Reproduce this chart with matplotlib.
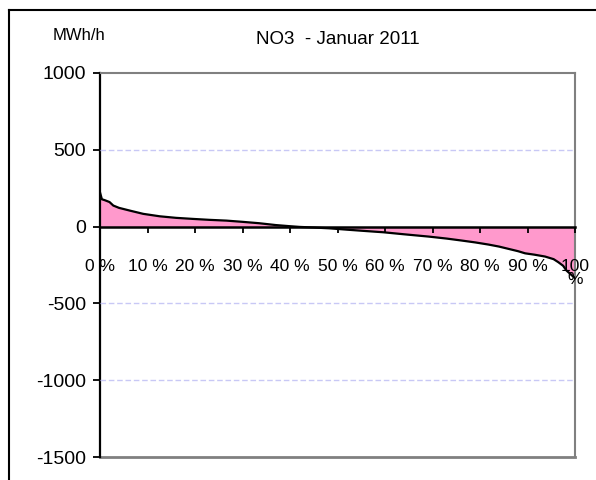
import matplotlib
matplotlib.use('Agg')
import matplotlib.pyplot as plt
from matplotlib.lines import Line2D

plt.rcParams['font.family'] = ['Liberation Sans', 'DejaVu Sans']

# duration curve, share of hours (%) vs. MWh/h
pct = [0, 0.2, 0.4, 1, 2, 2.8, 4, 6.3, 9.1, 12.6, 16, 19.6, 23, 26.6, 30,
       33.5, 37, 39.8, 42, 45, 48.2, 52, 56, 59.7, 64, 69.2, 73, 76.2, 79,
       81.8, 84, 86, 88, 89.5, 91.5, 93.7, 95.5, 96.5, 97.5, 98.2, 99.4, 100]
mwh = [223, 200, 178, 172, 160, 137, 122, 104, 83, 67, 57, 50, 44, 39, 31,
       22, 10, 3, -2, -6, -11, -20, -29, -37, -50, -65, -78, -91, -103,
       -117, -130, -145, -160, -174, -183, -195, -212, -232, -255, -286, -319, -335]

yticks = [1000, 500, 0, -500, -1000, -1500]
xticks = [0, 10, 20, 30, 40, 50, 60, 70, 80, 90, 100]
xlabels = ['0 %', '10 %', '20 %', '30 %', '40 %', '50 %', '60 %', '70 %',
           '80 %', '90 %', '100\n%']

fig = plt.figure(figsize=(5.96, 4.80), dpi=100)
ax = fig.add_axes([100/596, 1-457/480, 475/596, 384/480])

# spine position first: moving it resets the tick labels
ax.spines['bottom'].set_position(('data', 0))
ax.spines['bottom'].set_linewidth(1.8)
ax.spines['left'].set_linewidth(1.6)
for s in ['top', 'right']:
    ax.spines[s].set_color('#808080')
    ax.spines[s].set_linewidth(1.5)

ax.fill_between(pct, mwh, 0, color='#ff99cc', linewidth=0, zorder=1)
ax.plot(pct, mwh, color='black', linewidth=1.6, zorder=3)
ax.axhline(-1500, color='#808080', linewidth=2, clip_on=False)

ax.set_xlim(0, 100)
ax.set_ylim(-1500, 1000)
ax.set_yticks(yticks)
ax.set_yticklabels([str(v) for v in yticks], fontsize=14)
ax.set_xticks(xticks)
ax.set_xticklabels(xlabels, fontsize=12.5, linespacing=0.85, va='top')
ax.tick_params(axis='y', direction='out', length=5, width=1.3, pad=5)
ax.tick_params(axis='x', direction='out', length=4, width=1.3, pad=19)

ax.grid(axis='y', color='#c8c8f5', linestyle=(0, (4, 2)), linewidth=1)
ax.set_axisbelow(False)
# only the 500, -500 and -1000 lines are dashed gridlines
for v, gl in zip(yticks, ax.yaxis.get_gridlines()):
    if v in (1000, 0, -1500):
        gl.set_visible(False)

fig.text(338/596, 1-40/480, 'NO3  - Januar 2011', fontsize=13.5, ha='center', va='center')
fig.text(79/596, 1-35/480, 'MWh/h', fontsize=12, ha='center', va='center')

# outer frame
fig.add_artist(Line2D([9/596, 1], [1-10/480, 1-10/480], color='black', linewidth=1.5, transform=fig.transFigure))
fig.add_artist(Line2D([9/596, 9/596], [0, 1-10/480], color='black', linewidth=1.5, transform=fig.transFigure))

fig.savefig('out.png', dpi=100)
